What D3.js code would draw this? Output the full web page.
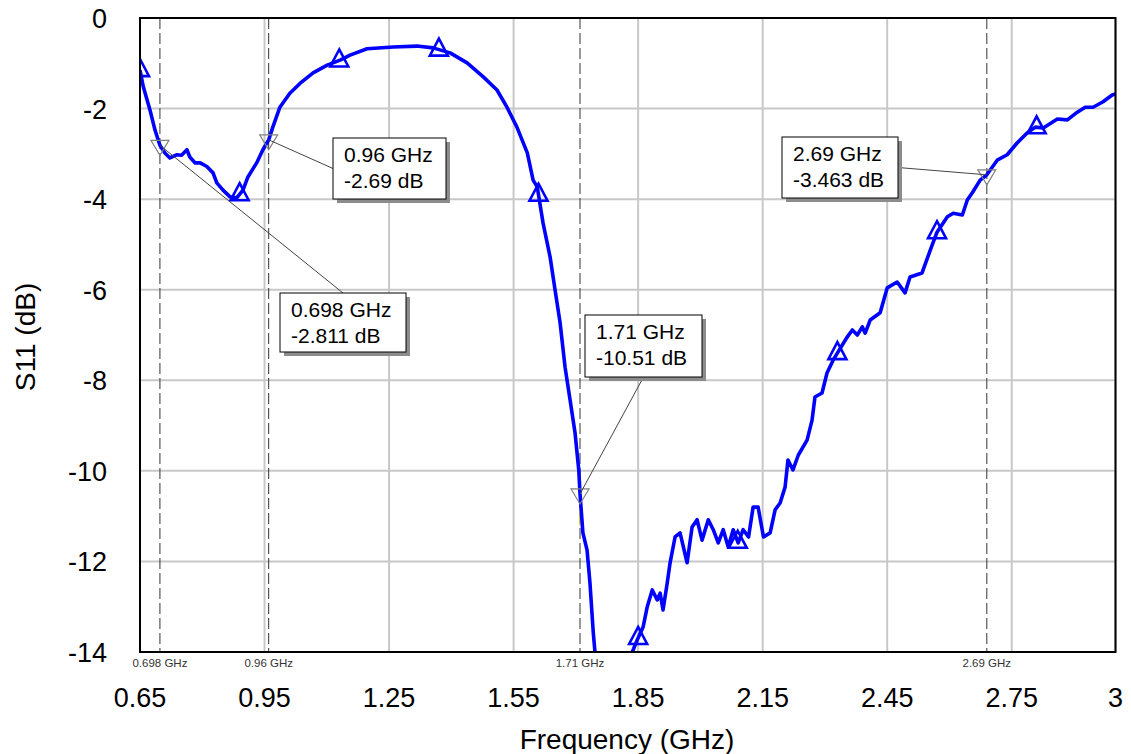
<!DOCTYPE html>
<html>
<head>
<meta charset="utf-8">
<script src="https://cdn.jsdelivr.net/npm/d3@7"></script>
<style>
  html, body { margin: 0; padding: 0; background: #fff; }
  svg { display: block; font-family: "Liberation Sans", Arial, sans-serif; }
</style>
</head>
<body>
<svg id="chart" width="1131" height="754"></svg>
<script>
// Measured S11 sweep (GHz, dB)
const freqGHz = [
  0.650, 0.658, 0.674, 0.686, 0.698, 0.710, 0.722, 0.738, 0.750, 0.763,
  0.770, 0.783, 0.795, 0.811, 0.826, 0.835, 0.850, 0.867, 0.883, 0.898,
  0.910, 0.931, 0.946, 0.960, 0.970, 0.987, 1.011, 1.036, 1.067, 1.101,
  1.132, 1.156, 1.197, 1.260, 1.317, 1.356, 1.397, 1.438, 1.477, 1.510,
  1.534, 1.558, 1.583, 1.597, 1.607, 1.621, 1.638, 1.650, 1.662, 1.674,
  1.686, 1.698, 1.707, 1.710, 1.717, 1.727, 1.734, 1.742, 1.746, 1.760,
  1.780, 1.800, 1.820, 1.836, 1.848, 1.862, 1.872, 1.884, 1.896, 1.903,
  1.910, 1.920, 1.927, 1.939, 1.951, 1.968, 1.980, 1.992, 2.004, 2.019,
  2.031, 2.043, 2.055, 2.067, 2.079, 2.091, 2.103, 2.116, 2.127, 2.139,
  2.152, 2.168, 2.180, 2.192, 2.204, 2.211, 2.223, 2.236, 2.257, 2.269,
  2.276, 2.293, 2.305, 2.320, 2.354, 2.366, 2.378, 2.390, 2.397, 2.409,
  2.433, 2.450, 2.474, 2.493, 2.505, 2.534, 2.554, 2.570, 2.595, 2.609,
  2.631, 2.643, 2.655, 2.674, 2.690, 2.715, 2.739, 2.763, 2.787, 2.807,
  2.826, 2.860, 2.884, 2.908, 2.927, 2.946, 2.970, 2.992, 3.000
];
const s11dB = [
  -1.15, -1.52, -2.03, -2.47, -2.811, -2.98, -3.09, -3.02, -3.03, -2.91,
  -3.07, -3.20, -3.20, -3.28, -3.42, -3.64, -3.80, -3.95, -3.97, -3.80,
  -3.51, -3.20, -2.91, -2.69, -2.41, -1.97, -1.66, -1.44, -1.21, -1.04,
  -0.93, -0.82, -0.68, -0.64, -0.62, -0.66, -0.77, -0.99, -1.30, -1.59,
  -1.97, -2.41, -2.98, -3.58, -3.73, -4.53, -5.28, -6.01, -6.73, -7.71,
  -8.43, -9.16, -9.98, -10.51, -11.37, -11.75, -12.48, -13.58, -14.00, -15.40,
  -17.00, -17.80, -16.00, -14.00, -13.73, -13.45, -13.00, -12.63, -12.85, -12.70,
  -13.07, -12.48, -12.03, -11.46, -11.37, -12.03, -11.24, -11.08, -11.53, -11.08,
  -11.30, -11.59, -11.30, -11.68, -11.30, -11.59, -11.30, -11.46, -10.80, -10.80,
  -11.46, -11.37, -10.86, -10.71, -10.36, -9.76, -9.98, -9.65, -9.32, -8.88,
  -8.37, -8.28, -7.84, -7.55, -7.04, -6.89, -7.00, -6.82, -6.96, -6.67,
  -6.51, -5.96, -5.83, -6.07, -5.72, -5.63, -5.12, -4.73, -4.39, -4.31,
  -4.35, -4.02, -3.86, -3.58, -3.463, -3.14, -3.02, -2.76, -2.54, -2.41,
  -2.43, -2.23, -2.25, -2.08, -1.97, -1.97, -1.85, -1.70, -1.68
];

// Axis ticks
const xTicks = [0.65, 0.95, 1.25, 1.55, 1.85, 2.15, 2.45, 2.75, 3];
const yTicks = [0, -2, -4, -6, -8, -10, -12, -14];

// Trace symbol positions along the sweep
const symbolFreq = [0.65, 0.89, 1.13, 1.37, 1.61, 1.85, 2.09, 2.33, 2.57, 2.81];

// Readout markers
const markerFreq = [0.698, 0.96, 1.71, 2.69];
const markerDb = [-2.811, -2.69, -10.51, -3.463];
const markerFreqText = ["0.698", "0.96", "1.71", "2.69"];

// Callout box placement (pixels) and which side the leader attaches to
const calloutLayout = [
  { x: 280, y: 293, w: 126, h: 59, side: "top" },
  { x: 333, y: 138, w: 113, h: 61, side: "left" },
  { x: 585, y: 315, w: 117, h: 62, side: "bottom" },
  { x: 782, y: 137, w: 116, h: 61, side: "right" }
];

const plot = { left: 140, right: 1115.5, top: 18, bottom: 652 };
const svg = d3.select("#chart");

const x = d3.scaleLinear().domain([0.65, 3]).range([plot.left, plot.right]);
const y = d3.scaleLinear().domain([0, -14]).range([plot.top, plot.bottom]);

// Grid
const grid = svg.append("g").attr("stroke", "#c8c8c8").attr("stroke-width", 2);
grid.selectAll("line.v").data(xTicks).join("line")
  .attr("x1", d => x(d)).attr("x2", d => x(d))
  .attr("y1", plot.top).attr("y2", plot.bottom);
grid.selectAll("line.h").data(yTicks).join("line")
  .attr("x1", plot.left).attr("x2", plot.right)
  .attr("y1", d => y(d)).attr("y2", d => y(d));

// Marker dashed verticals
svg.append("g").selectAll("line").data(markerFreq).join("line")
  .attr("x1", d => x(d)).attr("x2", d => x(d))
  .attr("y1", plot.top).attr("y2", plot.bottom)
  .attr("stroke", "#333").attr("stroke-width", 1)
  .attr("stroke-dasharray", "11,4");

// Clip region for trace
svg.append("clipPath").attr("id", "plotClip").append("rect")
  .attr("x", plot.left).attr("y", plot.top)
  .attr("width", plot.right - plot.left).attr("height", plot.bottom - plot.top);

const data = freqGHz.map((f, i) => ({ f, v: s11dB[i] }));
const trace = svg.append("g").attr("clip-path", "url(#plotClip)");

// Marker highlight on the trace
trace.append("line")
  .attr("x1", x(markerFreq[2])).attr("x2", x(markerFreq[2]))
  .attr("y1", y(markerDb[2]) - 14).attr("y2", y(markerDb[2]) + 32)
  .attr("stroke", "#f0e000").attr("stroke-width", 1.2);

trace.append("path")
  .datum(data)
  .attr("fill", "none")
  .attr("stroke", "#0000ff")
  .attr("stroke-width", 3.6)
  .attr("stroke-linejoin", "round")
  .attr("d", d3.line().x(d => x(d.f)).y(d => y(d.v)));

// Trace symbols (hollow triangles) placed on the trace
const interp = f => {
  const i = d3.bisector(d => d.f).left(data, f);
  if (i <= 0) return data[0].v;
  if (i >= data.length) return data[data.length - 1].v;
  const a = data[i - 1], b = data[i];
  return a.v + (b.v - a.v) * (f - a.f) / (b.f - a.f);
};
trace.selectAll("path.sym").data(symbolFreq).join("path")
  .attr("class", "sym")
  .attr("transform", d => `translate(${x(d)},${y(interp(d))})`)
  .attr("d", "M0,-11 L9,6 L-9,6 Z")
  .attr("fill", "none")
  .attr("stroke", "#0000ff")
  .attr("stroke-width", 2.6)
  .attr("stroke-linejoin", "miter");

// Plot frame
svg.append("rect")
  .attr("x", plot.left).attr("y", plot.top)
  .attr("width", plot.right - plot.left).attr("height", plot.bottom - plot.top)
  .attr("fill", "none").attr("stroke", "#000").attr("stroke-width", 2);

// Readout marker triangles
svg.append("g").selectAll("path").data(markerFreq).join("path")
  .attr("transform", (d, i) => `translate(${x(d)},${y(markerDb[i])})`)
  .attr("d", "M-9,-5 L9,-5 L0,10 Z")
  .attr("fill", "none").attr("stroke", "#808080").attr("stroke-width", 1.2);

// Callouts
const callouts = svg.append("g");
markerFreq.forEach((f, i) => {
  const L = calloutLayout[i];
  const mx = x(f), my = y(markerDb[i]);
  let ax, ay;
  if (L.side === "top") { ax = L.x + L.w / 2; ay = L.y; }
  else if (L.side === "left") { ax = L.x; ay = L.y + L.h / 2; }
  else if (L.side === "bottom") { ax = L.x + L.w / 2; ay = L.y + L.h; }
  else { ax = L.x + L.w; ay = L.y + L.h / 2; }
  callouts.append("line")
    .attr("x1", mx).attr("y1", my).attr("x2", ax).attr("y2", ay)
    .attr("stroke", "#444").attr("stroke-width", 1);
  callouts.append("rect")
    .attr("x", L.x + 4).attr("y", L.y + 4).attr("width", L.w).attr("height", L.h)
    .attr("fill", "#8c8c8c");
  callouts.append("rect")
    .attr("x", L.x).attr("y", L.y).attr("width", L.w).attr("height", L.h)
    .attr("fill", "#fff").attr("stroke", "#000").attr("stroke-width", 1);
  callouts.append("text")
    .attr("x", L.x + 11).attr("y", L.y + 24)
    .attr("font-size", 21).attr("fill", "#000")
    .text(`${markerFreqText[i]} GHz`);
  callouts.append("text")
    .attr("x", L.x + 11).attr("y", L.y + 50)
    .attr("font-size", 21).attr("fill", "#000")
    .text(`${markerDb[i]} dB`);
});

// Marker frequency tags under the plot
svg.append("g").selectAll("text").data(markerFreq).join("text")
  .attr("x", d => x(d)).attr("y", 667)
  .attr("text-anchor", "middle")
  .attr("font-size", 11.5).attr("fill", "#333")
  .text((d, i) => `${markerFreqText[i]} GHz`);

// Tick labels
svg.append("g").selectAll("text").data(xTicks).join("text")
  .attr("x", d => x(d)).attr("y", 707)
  .attr("text-anchor", "middle")
  .attr("font-size", 27).attr("fill", "#000")
  .text(d => d);
svg.append("g").selectAll("text").data(yTicks).join("text")
  .attr("x", 107).attr("y", d => y(d) + 10)
  .attr("text-anchor", "end")
  .attr("font-size", 27).attr("fill", "#000")
  .text(d => d);

// Axis titles
svg.append("text")
  .attr("x", 627).attr("y", 749)
  .attr("text-anchor", "middle")
  .attr("font-size", 28).attr("fill", "#000")
  .text("Frequency (GHz)");
svg.append("text")
  .attr("transform", "translate(35,337) rotate(-90)")
  .attr("text-anchor", "middle")
  .attr("font-size", 28).attr("fill", "#000")
  .text("S11 (dB)");
</script>
</body>
</html>
